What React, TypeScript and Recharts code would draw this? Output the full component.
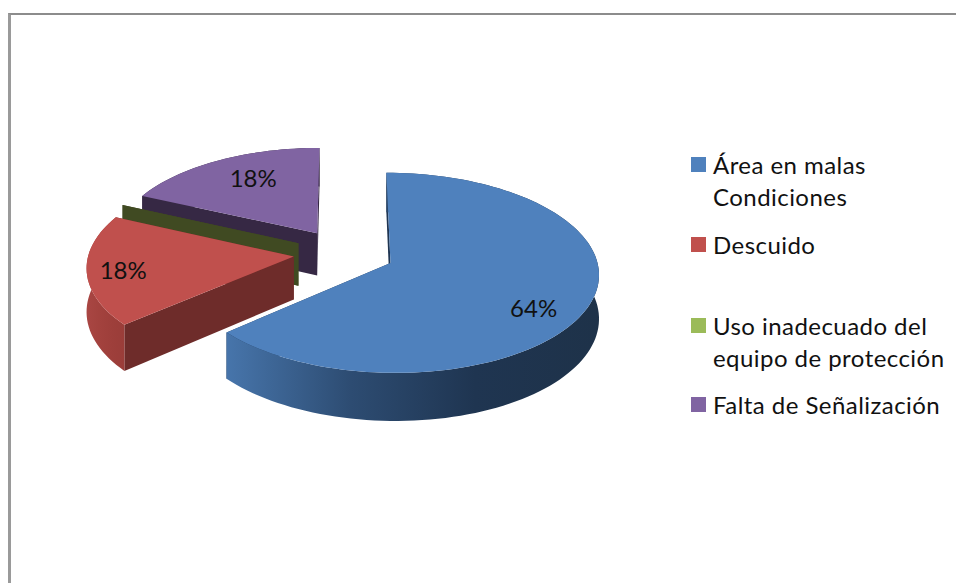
import { Pie, PieChart } from "recharts";

const categories = [
  "Área en malas Condiciones",
  "Descuido",
  "Uso inadecuado del equipo de protección",
  "Falta de Señalización",
];
const counts = [7, 2, 0, 2];
const legendLines = [
  ["Área en malas", "Condiciones"],
  ["Descuido"],
  ["Uso inadecuado del", "equipo de protección"],
  ["Falta de Señalización"],
];

const topColors = ["#4F81BD", "#C0504D", "#9BBB59", "#8064A2"];
const cutColors = ["#1F3552", "#6E2C2A", "#404A22", "#362844"];
const rimStops = [
  ["#4775AB", "#2D4C72", "#1F3551", "#1E3249"],
  ["#A94643", "#A3423E", "#9E3F3B", "#9A3D39"],
  ["#404A22", "#404A22", "#404A22", "#404A22"],
  ["#362844", "#362844", "#362844", "#362844"],
];

// pie is drawn counter clockwise from the back so the front slices paint last
const tableData = categories
  .map((name, i) => ({ name, value: counts[i], idx: i }))
  .reverse();

const FONT = "Lato, sans-serif";
const TILT = 0.474;
const PERSPECTIVE = 0.00047;
const EXPLODE = 50.6;
const DEPTH = 43;
const labelNudge = [
  [-2, 13],
  [1, 1],
  [0, 0],
  [-1, -9],
];

// flat pie coordinates to screen, near side comes out a bit bigger
const project = (cx: number, cy: number, X: number, Y: number, drop = 0) => {
  const s = 1 / (1 - PERSPECTIVE * Y);
  return [cx + X * s, cy + (Y * TILT + drop) * s];
};

const polar = (a: number, r: number) => {
  const rad = (a * Math.PI) / 180;
  return [Math.cos(rad) * r, -Math.sin(rad) * r];
};

const toPath = (pts: number[][]) =>
  "M" + pts.map((p) => p[0].toFixed(2) + " " + p[1].toFixed(2)).join("L") + "Z";

const Slice3D = (props: any) => {
  const { cx, cy, outerRadius: R, startAngle, endAngle, midAngle, payload } = props;
  const i = payload.idx;
  const [ox, oy] = polar(midAngle, EXPLODE);
  const steps = Math.max(2, Math.ceil(Math.abs(endAngle - startAngle) / 2));
  const arc: number[][] = [];
  for (let k = 0; k <= steps; k++) {
    const a = startAngle + ((endAngle - startAngle) * k) / steps;
    const [x, y] = polar(a, R);
    arc.push([ox + x, oy + y]);
  }
  const up = (p: number[]) => project(cx, cy, p[0], p[1]);
  const down = (p: number[]) => project(cx, cy, p[0], p[1], DEPTH);
  const apex = [ox, oy];
  const first = arc[0];
  const last = arc[arc.length - 1];
  const gradId = "rim" + i;
  return (
    <g>
      <defs>
        <linearGradient id={gradId} x1="0" y1="0" x2="1" y2="0">
          {rimStops[i].map((c, k) => (
            <stop key={k} offset={k / (rimStops[i].length - 1)} stopColor={c} />
          ))}
        </linearGradient>
      </defs>
      <path d={toPath([up(apex), up(first), down(first), down(apex)])} fill={cutColors[i]} />
      <path d={toPath([up(apex), up(last), down(last), down(apex)])} fill={cutColors[i]} />
      <path
        d={toPath([...arc.map(up), ...arc.slice().reverse().map(down)])}
        fill={`url(#${gradId})`}
      />
      <path d={toPath([up(apex), ...arc.map(up)])} fill={topColors[i]} />
    </g>
  );
};

const labelAt = [0.74, 0.83, 0, 0.62];

const renderLabel = (props: any) => {
  const { cx, cy, outerRadius: R, midAngle, percent, payload } = props;
  if (!payload.value) return null;
  const i = payload.idx;
  const [ox, oy] = polar(midAngle, EXPLODE);
  const [lx, ly] = polar(midAngle, R * labelAt[i]);
  const [x, y] = project(cx, cy, ox + lx, oy + ly);
  return (
    <text
      x={x + labelNudge[i][0]}
      y={y + labelNudge[i][1]}
      textAnchor="middle"
      dominantBaseline="central"
      fontFamily={FONT}
      fontSize={24}
      fill="#111"
    >
      {Math.round(percent * 100)}%
    </text>
  );
};

const legendTops = [149, 229, 310, 389];

const App = () => {
  return (
    <div style={{ position: "absolute", left: 0, top: 0, width: 956, height: 583, overflow: "hidden", background: "#fff" }}>
      <div
        style={{
          position: "absolute",
          left: 8,
          top: 13,
          right: 0,
          bottom: 0,
          borderTop: "2px solid #8C8C8C",
          borderLeft: "3px solid #9A9A9A",
        }}
      />
      <PieChart width={956} height={583} margin={{ top: 0, right: 0, bottom: 0, left: 0 }} style={{ position: "absolute", left: 0, top: 0 }}>
        <Pie
          data={tableData}
          dataKey="value"
          nameKey="name"
          cx={344}
          cy={253}
          outerRadius={205}
          startAngle={90}
          endAngle={450}
          stroke="none"
          shape={Slice3D}
          label={renderLabel}
          labelLine={false}
          isAnimationActive={false}
        />
      </PieChart>
      {legendLines.map((lines, i) => (
        <div key={i} style={{ position: "absolute", left: 691, top: legendTops[i], fontFamily: FONT, fontSize: 24, letterSpacing: 0.45, lineHeight: "32px", color: "#111" }}>
          <span style={{ position: "absolute", left: 0, top: 8, width: 15, height: 15, background: topColors[i] }} />
          {lines.map((t) => (
            <div key={t} style={{ marginLeft: 22, whiteSpace: "nowrap" }}>
              {t}
            </div>
          ))}
        </div>
      ))}
    </div>
  );
};

export default App;
